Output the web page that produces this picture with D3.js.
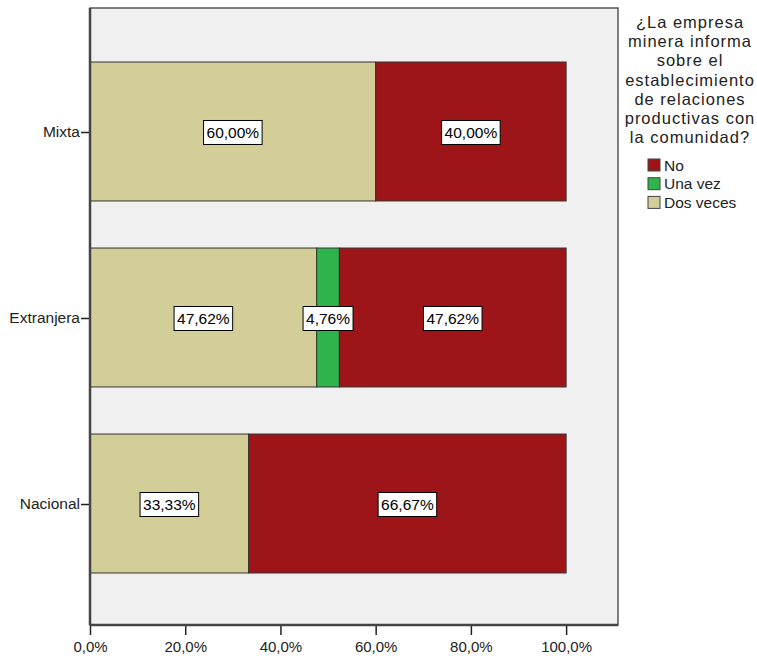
<!DOCTYPE html>
<html><head><meta charset="utf-8">
<script src="https://cdn.jsdelivr.net/npm/d3@7"></script>
<style>body{margin:0;background:#fff;} text{font-family:"Liberation Sans",Arial,sans-serif;}</style>
</head><body><svg id="c" width="757" height="656"></svg>
<script>
const categories = ["Mixta", "Extranjera", "Nacional"];
const seriesNames = ["Dos veces", "Una vez", "No"];
const dosVeces = [60.00, 47.62, 33.33];
const unaVez = [0, 4.76, 0];
const no = [40.00, 47.62, 66.67];
const xTicks = [0, 20, 40, 60, 80, 100];
const legendTitle = ["¿La empresa", "minera informa", "sobre el", "establecimiento", "de relaciones", "productivas con", "la comunidad?"];
const legendOrder = ["No", "Una vez", "Dos veces"];
const colors = {"No": "#9d1518", "Una vez": "#2eb44b", "Dos veces": "#d3cd98"};

const svg = d3.select("#c");
const L = 90, R = 618, T = 8, B = 625;
const x = d3.scaleLinear().domain([0, 110.9]).range([L, R]);
const y = d3.scaleBand().domain(categories).range([T, B]).paddingInner(0.253).paddingOuter(0.285);

svg.append("rect").attr("x", L).attr("y", T).attr("width", R - L).attr("height", B - T)
  .attr("fill", "#f0f0f0").attr("stroke", "#555").attr("stroke-width", 1.5);

const seriesVals = {"Dos veces": dosVeces, "Una vez": unaVez, "No": no};
const rows = categories.map((c, i) => {
  const o = {cat: c};
  seriesNames.forEach(s => o[s] = seriesVals[s][i]);
  return o;
});
const stack = d3.stack().keys(seriesNames)(rows);

stack.forEach(layer => {
  svg.append("g").selectAll("rect").data(layer.filter(d => d[1] - d[0] > 0)).join("rect")
    .attr("x", d => x(d[0])).attr("width", d => x(d[1]) - x(d[0]))
    .attr("y", d => y(d.data.cat) + 1).attr("height", y.bandwidth())
    .attr("fill", colors[layer.key]).attr("stroke", "#333").attr("stroke-width", 1);
});

// value labels
const fmt = v => v.toFixed(2).replace(".", ",") + "%";
stack.forEach(layer => {
  layer.forEach(d => {
    const v = d[1] - d[0];
    if (v <= 0) return;
    const cx = x((d[0] + d[1]) / 2), cy = y(d.data.cat) + y.bandwidth() / 2 + 2;
    const g = svg.append("g");
    const t = g.append("text").attr("x", cx).attr("y", cy + 5.5).attr("text-anchor", "middle")
      .attr("font-size", 15.5).attr("fill", "#000").text(fmt(v));
    const w = t.node().getComputedTextLength();
    g.insert("rect", "text").attr("x", cx - w / 2 - 3).attr("y", cy - 12).attr("width", w + 6).attr("height", 24)
      .attr("fill", "#fff").attr("stroke", "#000").attr("stroke-width", 1);
  });
});

// x axis
const xa = svg.append("g").attr("transform", `translate(0,${B})`)
  .call(d3.axisBottom(x).tickValues(xTicks).tickSize(10).tickSizeOuter(0).tickFormat(d => d.toFixed(1).replace(".", ",") + "%"));
xa.select(".domain").remove();
xa.selectAll("line").attr("stroke", "#222").attr("stroke-width", 1.5);
xa.selectAll("text").attr("font-size", 15).attr("fill", "#222").attr("font-family", "Liberation Sans, Arial, sans-serif").attr("dy", "0.9em");

// y axis
const ya = svg.append("g").attr("transform", `translate(${L},${2})`)
  .call(d3.axisLeft(y).tickSize(9).tickSizeOuter(0));
ya.select(".domain").remove();
ya.selectAll("line").attr("stroke", "#222").attr("stroke-width", 1.5);
ya.selectAll("text").attr("font-size", 15.5).attr("fill", "#222").attr("font-family", "Liberation Sans, Arial, sans-serif").attr("x", -10);

// left/bottom thicker lines
svg.append("line").attr("x1", L).attr("x2", L).attr("y1", T).attr("y2", B).attr("stroke", "#444").attr("stroke-width", 2.5);
svg.append("line").attr("x1", L).attr("x2", R).attr("y1", B).attr("y2", B).attr("stroke", "#444").attr("stroke-width", 2.5);

// legend
const lt = svg.append("text").attr("font-size", 16.5).attr("letter-spacing", 1).attr("fill", "#222").attr("text-anchor", "middle");
legendTitle.forEach((s, i) => lt.append("tspan").attr("x", 690).attr("y", 28 + i * 19.2).text(s));
legendOrder.forEach((s, i) => {
  const yy = 159 + i * 18.7;
  svg.append("rect").attr("x", 648).attr("y", yy).attr("width", 12).attr("height", 12)
    .attr("fill", colors[s]).attr("stroke", "#444").attr("stroke-width", 1);
  svg.append("text").attr("x", 664).attr("y", yy + 11.5).attr("font-size", 15.5).attr("fill", "#222").text(s);
});
</script></body></html>
